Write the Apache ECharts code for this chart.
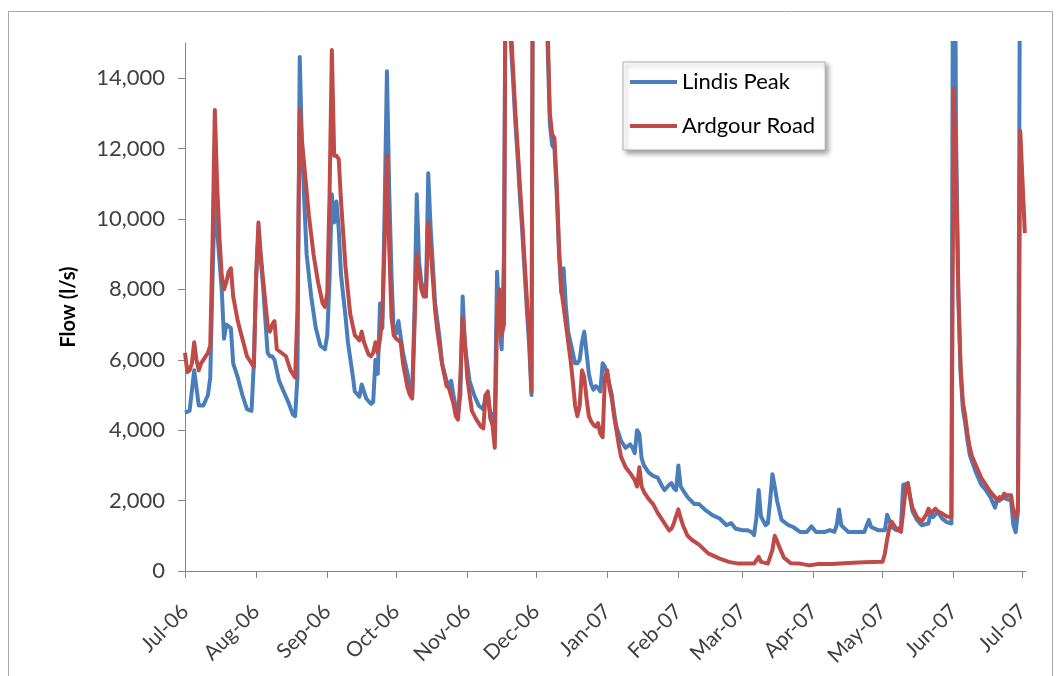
<!DOCTYPE html>
<html>
<head>
<meta charset="utf-8">
<script src="https://cdn.jsdelivr.net/npm/echarts@6/dist/echarts.min.js"></script>
<style>
html,body{margin:0;padding:0;background:#fff;}
#c{width:1056px;height:676px;}
</style>
</head>
<body>
<div id="c"></div>
<script>
// Days are counted from 1 July 2006
const lindisDay = [0,2,4,6,8,10,11,12,13,14,16,17,18,20,21,23,25,27,29,30,31,32,34,36,37,38,39,41,43,45,47,48,49,50,51,53,55,57,59,61,
62,63,64,65,66,67,68,70,71,73,74,76,77,79,81,82,83,84,85,86,87,88,89,90,91,92,93,95,97,98,99,100,101,102,103,105,106,107,109,111,112,114,115,116,117,118,119,120,121,122,
124,126,128,130,131,132,133,134,135,136,137,138,139,140,141,142,143,144,145,146,147,148,149,150,151,152,155,158,159,160,161,162,163,164,165,166,167,168,169,170,171,172,173,174,175,176,177,178,179,180,181,182,183,
184,185,186,187,188,189,190,192,194,195,196,197,198,199,200,202,204,206,208,209,211,212,213,214,215,216,217,219,222,224,227,230,233,236,238,240,
243,245,247,248,249,250,251,253,254,255,256,257,258,260,263,265,268,271,273,275,279,281,283,284,285,286,289,294,296,298,299,302,
305,306,308,310,312,313,315,317,319,321,324,325,326,328,330,332,334,335,336,337,338,339,340,341,342,343,345,347,349,351,352,353,354,355,356,358,360,361,362,363,364,366];
const lindisFlow = [4500,4550,5700,4700,4700,5000,5500,8300,10800,9700,8000,6600,7000,6900,5900,5500,5000,4600,4550,5900,8300,9600,8100,6200,6100,6100,6000,5400,5100,4800,4450,4400,5500,14600,12000,9000,7800,6900,6400,6300,
6700,8300,10700,9900,10500,9700,8400,7200,6500,5600,5100,4950,5300,4900,4750,4800,6000,5600,7600,6900,10300,14200,10800,8400,6700,6750,7100,6200,5600,5100,5000,7400,10700,8800,8200,7800,11300,9800,7600,6600,5900,5400,5200,5400,5000,4650,4450,5000,7800,6400,
5400,5000,4700,4600,5000,5000,4500,4450,4300,8500,7000,6300,9000,21000,18500,15000,13900,12700,11700,10600,9600,8500,7400,6400,5000,27000,22000,15000,12700,12100,12000,10700,9000,7900,8600,7500,6800,6500,6200,5900,5900,6000,6500,6800,6200,5600,5300,5150,5250,5200,5100,5900,5800,
5600,5300,5000,4500,4100,3900,3700,3500,3600,3500,3350,4000,3900,3200,3000,2800,2700,2650,2400,2300,2450,2500,2350,2300,3000,2400,2300,2100,1900,1900,1720,1580,1490,1300,1360,1200,
1160,1160,1100,1020,1500,2300,1550,1300,1350,2000,2750,2400,2000,1450,1300,1250,1110,1110,1270,1110,1110,1160,1110,1300,1750,1300,1110,1110,1110,1450,1250,1160,
1160,1600,1250,1160,1250,2450,2480,1700,1450,1300,1350,1680,1530,1680,1490,1390,1350,26000,12500,7800,5600,4600,4200,3700,3300,3100,2750,2450,2300,2100,1950,1800,2050,2000,2100,2050,2000,1300,1100,1700,20000,25000];

const ardgourDay = [0,1,2,3,4,5,6,7,8,10,11,12,13,14,15,16,17,18,19,20,21,23,25,27,29,30,31,32,33,34,36,37,38,39,40,42,44,46,48,49,50,51,52,54,56,58,60,61,
62,63,64,65,66,67,68,70,72,74,76,77,78,80,81,82,83,84,85,86,87,88,89,90,91,92,94,95,97,98,99,100,101,102,103,104,105,106,107,108,109,110,112,114,115,117,118,119,120,121,122,
123,125,127,129,130,131,132,133,134,135,136,137,138,139,140,141,142,143,144,145,146,147,148,149,150,151,152,155,158,159,160,161,162,163,164,165,166,167,168,169,170,171,172,173,174,175,176,177,178,179,180,181,182,183,
184,185,186,187,188,189,190,191,192,194,196,197,198,199,200,202,204,206,208,210,211,212,213,214,215,216,217,219,221,224,228,233,237,241,
248,250,251,254,256,257,258,259,261,264,268,272,276,282,289,296,304,305,306,307,308,309,310,312,313,314,315,316,317,319,321,323,324,325,327,328,330,332,334,
335,336,337,338,339,340,341,342,343,345,347,349,351,353,354,355,356,357,358,360,361,362,363,364,366];
const ardgourFlow = [6200,5650,5700,5900,6500,6000,5700,5900,6000,6200,6400,9300,13100,11000,9500,8400,8000,8200,8500,8600,7800,7100,6600,6100,5900,5800,8400,9900,9000,8300,7000,6800,7000,7100,6300,6200,6100,5700,5500,7400,13100,12200,11500,10100,9000,8200,7600,7500,
7900,10700,14800,11800,11800,11700,10500,8600,7300,6700,6550,6800,6500,6150,6100,6200,6500,6200,6600,7200,9300,11800,9200,7200,6700,6600,6500,5900,5200,5000,4900,6900,9000,8500,8000,7800,7800,9900,9200,8300,7400,6800,5900,5250,5200,4750,4400,4300,5500,7200,6500,
5500,4550,4300,4100,4050,5000,5100,4350,4150,3500,7200,8000,6700,7000,22000,19000,15500,14200,13000,12000,10900,9900,8800,7700,6700,5100,28000,23000,15500,13000,12400,12300,11000,9200,8000,7500,7000,6500,6000,5400,4700,4400,4700,5700,5500,4900,4400,4250,4150,4100,4200,3900,3800,5500,
5700,5200,4900,4400,4000,3600,3250,3100,2950,2780,2580,2400,2950,2400,2250,2050,1900,1650,1450,1250,1150,1200,1350,1550,1750,1500,1300,1000,880,750,500,350,260,210,
210,400,260,210,600,1000,850,680,380,220,210,160,200,200,230,250,260,500,900,1250,1400,1300,1200,1110,1700,2300,2500,2100,1800,1530,1400,1600,1770,1650,1770,1700,1630,1550,1530,
13700,11500,8000,5800,4800,4400,3900,3500,3250,2950,2650,2450,2250,2100,2000,2100,2050,2200,2150,2150,1700,1500,1800,12500,9600];

const tickDates = ['2006-07-01','2006-08-01','2006-09-01','2006-10-01','2006-11-01','2006-12-01','2007-01-01','2007-02-01','2007-03-01','2007-04-01','2007-05-01','2007-06-01','2007-07-01'];
const tickLabels = ['Jul-06','Aug-06','Sep-06','Oct-06','Nov-06','Dec-06','Jan-07','Feb-07','Mar-07','Apr-07','May-07','Jun-07','Jul-07'];
const yTicks = [0,2000,4000,6000,8000,10000,12000,14000];
const seriesNames = ['Lindis Peak','Ardgour Road'];

const DAY = 86400000;
const T0 = Date.UTC(2006, 6, 1);
const toTime = s => { const p = s.split('-').map(Number); return Date.UTC(p[0], p[1]-1, p[2]); };
const tickTimes = tickDates.map(toTime);
const toPts = (days, vals) => days.map((d, i) => [T0 + d * DAY, vals[i]]);

const chart = echarts.init(document.getElementById('c'), null, {renderer: 'canvas'});
const font = 'Lato';
chart.setOption({
  animation: false,
  backgroundColor: '#fff',
  textStyle: {fontFamily: font},
  graphic: [{
    type: 'rect', silent: true, z: -10,
    shape: {x: 8.5, y: 11.5, width: 1044, height: 680},
    style: {fill: 'none', stroke: '#a6a6a6', lineWidth: 1}
  }],
  grid: {left: 185, top: 43, width: 841, height: 528, containLabel: false},
  xAxis: {
    type: 'value',
    min: T0, max: T0 + 366.5 * DAY,
    splitLine: {show: false},
    axisLine: {lineStyle: {color: '#868686', width: 1}},
    axisTick: {show: true, customValues: tickTimes, length: 7, lineStyle: {color: '#868686'}},
    axisLabel: {
      customValues: tickTimes, rotate: 45, margin: 37, fontSize: 21, color: '#404040', fontFamily: font,
      formatter: v => { const i = tickTimes.findIndex(t => Math.abs(t - v) < DAY / 2); return i >= 0 ? tickLabels[i] : ''; }
    }
  },
  yAxis: {
    type: 'value', min: 0, max: 15000,
    name: 'Flow (l/s)', nameLocation: 'middle', nameGap: 106, nameRotate: 90,
    nameTextStyle: {fontWeight: 'bold', fontSize: 20, color: '#000', fontFamily: font},
    splitLine: {show: false},
    axisLine: {show: true, lineStyle: {color: '#868686', width: 1}},
    axisTick: {show: true, customValues: yTicks, length: 7, lineStyle: {color: '#868686'}},
    axisLabel: {customValues: yTicks, fontSize: 22, color: '#404040', margin: 20, fontFamily: font,
      formatter: v => Number(v).toLocaleString('en-US')}
  },
  legend: {
    orient: 'vertical', left: 623, top: 62,
    padding: [9, 10, 13, 7],
    itemWidth: 47, itemHeight: 4, itemGap: 22, icon: 'rect',
    backgroundColor: '#fff', borderColor: '#b0b0b0', borderWidth: 1,
    shadowColor: 'rgba(0,0,0,0.4)', shadowBlur: 5, shadowOffsetX: 3, shadowOffsetY: 3,
    textStyle: {fontSize: 22, lineHeight: 22, color: '#000', fontFamily: font},
    data: seriesNames
  },
  series: [
    {name: seriesNames[0], type: 'line', data: toPts(lindisDay, lindisFlow), showSymbol: false, symbol: 'none',
     color: '#4a7ebb', lineStyle: {color: '#4a7ebb', width: 4, join: 'round'}, clip: true},
    {name: seriesNames[1], type: 'line', data: toPts(ardgourDay, ardgourFlow), showSymbol: false, symbol: 'none',
     color: '#be4b48', lineStyle: {color: '#be4b48', width: 4, join: 'round'}, clip: true}
  ]
});
</script>
</body>
</html>
